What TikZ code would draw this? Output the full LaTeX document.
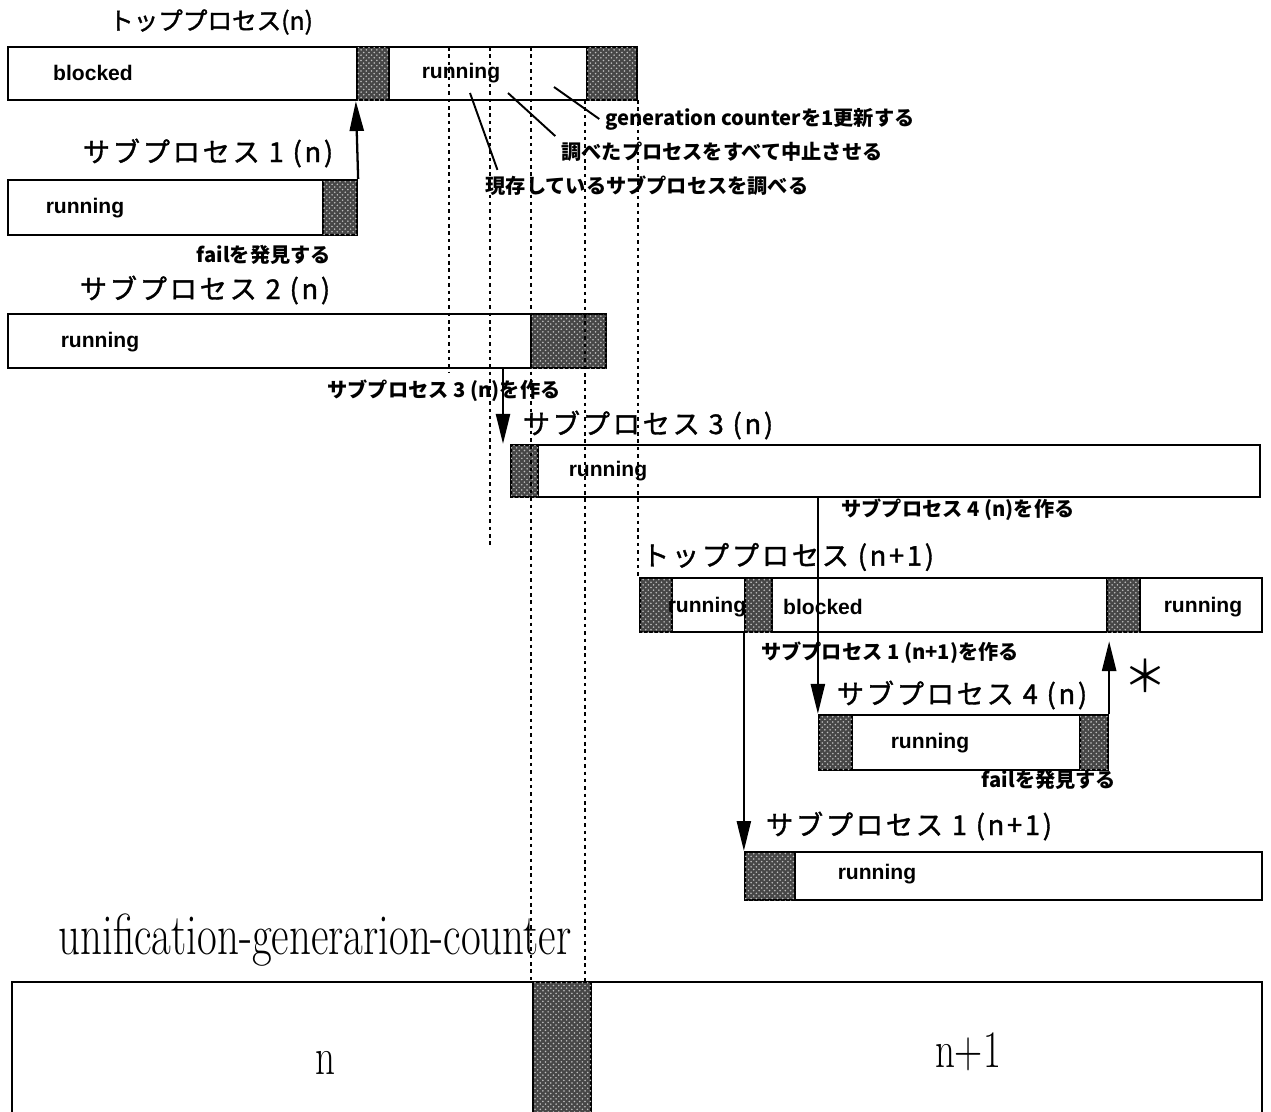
\documentclass[tikz,border=0pt]{standalone}
\usepackage{graphicx}
\usepackage{fontspec}
\newfontfamily\jp{Noto Sans CJK JP}
\newfontfamily\jpmid{Noto Sans CJK JP}[FakeBold=1.3]
\newfontfamily\jpwide{Noto Sans CJK JP}[LetterSpace=10, FakeBold=1.3]
\setsansfont{Liberation Sans}
\usetikzlibrary{fit,arrows.meta,patterns,positioning}
\newcommand{\tallfont}[2]{\fontsize{#1}{#1}\selectfont\scalebox{0.74}[1]{#2}}
\tikzset{
	procbar/.style={
		draw, line width=1.3pt, inner sep=0pt, fill=white
	},
	busy/.style={
		draw, line width=1.3pt, inner sep=0pt, fill=black!72,
		postaction={pattern=crosshatch dots, pattern color=black!25}
	},
	stlabel/.style={font=\sffamily\bfseries\fontsize{12}{14}\selectfont},
	bigtitle/.style={font=\jpwide\fontsize{15.5}{18}\selectfont},
	note/.style={font=\jp\bfseries\fontsize{11.5}{14}\selectfont},
	guide/.style={line width=1.6pt, dash pattern=on 2pt off 2.2pt},
	procarrow/.style={line width=1.3pt, -{Triangle[length=17pt,width=8pt]}},
	pointer/.style={line width=1.1pt}
}

\begin{document}
\begin{tikzpicture}[x=0.02cm, y=-0.02cm]
	\useasboundingbox (0,0) rectangle (1271,1112);
	% top process (n)
	\node[font=\jpmid\fontsize{14}{18}\selectfont] (topnT) at (211,22) {トッププロセス(n)};
	\node[procbar, fit={(8,47) (637,100)}] (topn) {};
	\node[busy, fit={(357,47) (389,100)}] (topnA) {};
	\node[busy, fit={(587,47) (637,100)}] (topnB) {};
	\node[stlabel] (topnS1) at (93,73) {blocked};
	\node[stlabel] (topnS2) at (461,73) {running};
	% sub process 1 (n)
	\node[bigtitle] (sub1nT) at (208,153) {サブプロセス 1 (n)};
	\node[procbar, fit={(8,180) (357,235)}] (sub1n) {};
	\node[busy, fit={(323,180) (357,235)}] (sub1nA) {};
	\node[stlabel] (sub1nS) at (85,208) {running};
	\node[note] (fail1) at (264,255) {failを発見する};
	% sub process 2 (n)
	\node[bigtitle] (sub2nT) at (205,290) {サブプロセス 2 (n)};
	\node[procbar, fit={(8,314) (606,368)}] (sub2n) {};
	\node[busy, fit={(531,314) (606,368)}] (sub2nA) {};
	\node[stlabel] (sub2nS) at (100,342) {running};
	\node[note] (mk3) at (444,391) {サブプロセス 3 (n)を作る};
	% sub process 3 (n)
	\node[bigtitle] (sub3nT) at (648,425) {サブプロセス 3 (n)};
	\node[procbar, fit={(511,445) (1260,497)}] (sub3n) {};
	\node[busy, fit={(511,445) (538,497)}] (sub3nA) {};
	\node[stlabel] (sub3nS) at (608,471) {running};
	\node[note] (mk4) at (958,510) {サブプロセス 4 (n)を作る};
	% top process (n+1)
	\node[bigtitle] (topn1T) at (788,557) {トッププロセス (n+1)};
	\node[procbar, fit={(640,578) (1262,632)}] (topn1) {};
	\node[busy, fit={(640,578) (672,632)}] (topn1A) {};
	\node[busy, fit={(745,578) (772,632)}] (topn1B) {};
	\node[busy, fit={(1107,578) (1140,632)}] (topn1C) {};
	\node[stlabel] (topn1S1) at (707,607) {running};
	\node[stlabel] (topn1S2) at (823,607) {blocked};
	\node[stlabel] (topn1S3) at (1203,607) {running};
	\node[note] (mk1) at (890,653) {サブプロセス 1 (n+1)を作る};
	% sub process 4 (n)
	\node[bigtitle] (sub4nT) at (962,695) {サブプロセス 4 (n)};
	\node[procbar, fit={(819,715) (1108,770)}] (sub4n) {};
	\node[busy, fit={(819,715) (852,770)}] (sub4nA) {};
	\node[busy, fit={(1080,715) (1108,770)}] (sub4nB) {};
	\node[stlabel] (sub4nS) at (930,743) {running};
	\node[note] (fail2) at (1049,780) {failを発見する};
	\node[font=\jp\fontsize{25}{25}\selectfont] (star) at (1145,676) {＊};
	% sub process 1 (n+1)
	\node[bigtitle] (sub1n1T) at (909,826) {サブプロセス 1 (n+1)};
	\node[procbar, fit={(745,852) (1262,900)}] (sub1n1) {};
	\node[busy, fit={(745,852) (795,900)}] (sub1n1A) {};
	\node[stlabel] (sub1n1S) at (877,874) {running};
	% unification-generation-counter
	\node (ugcT) at (315,940) {\tallfont{33}{unification-generarion-counter}};
	\node[procbar, fit={(12,982) (1262,1140)}] (ugc) {};
	\node[busy, fit={(533,982) (591,1140)}] (ugcA) {};
	\node (ugcN) at (325,1063) {\tallfont{30}{n}};
	\node (ugcN1) at (968,1052) {\tallfont{30}{n+1}};

	% notes on the top process
	\node[note] (gen) at (760,119) {generation counterを1更新する};
	\node[note] (stop) at (722,152) {調べたプロセスをすべて中止させる};
	\node[note] (exist) at (647,186) {現存しているサブプロセスを調べる};
	\coordinate (genP) at (554,87);
	\coordinate (stopP) at (508,93);
	\coordinate (existP) at (470,93);
	\draw[pointer] (genP) -- (gen.west);
	\draw[pointer] (stopP) -- (stop.north west);
	\draw[pointer] (existP) -- ([xshift=0.36cm]exist.north west);

	% process arrows
	\coordinate (mk3P) at (503,368);
	\draw[procarrow] (sub1n.north east) -- (topnA.south west);
	\draw[procarrow] (mk3P) -- (mk3P |- sub3n.north);
	\draw[procarrow] (sub4n.north west |- sub3n.south) -- (sub4n.north west);
	\draw[procarrow] (topn1B.south west) -- (sub1n1.north west);
	\draw[procarrow] (sub4n.north east) -- ([yshift=-0.16cm]sub4n.north east |- topn1.south);

	% guide lines
	\foreach \gx/\gtop/\gbot in {449/47/372, 490/47/547, 531/47/982, 585/100/982, 638/100/578}
		\draw[guide] (\gx,\gtop) -- (\gx,\gbot);
\end{tikzpicture}
\end{document}
